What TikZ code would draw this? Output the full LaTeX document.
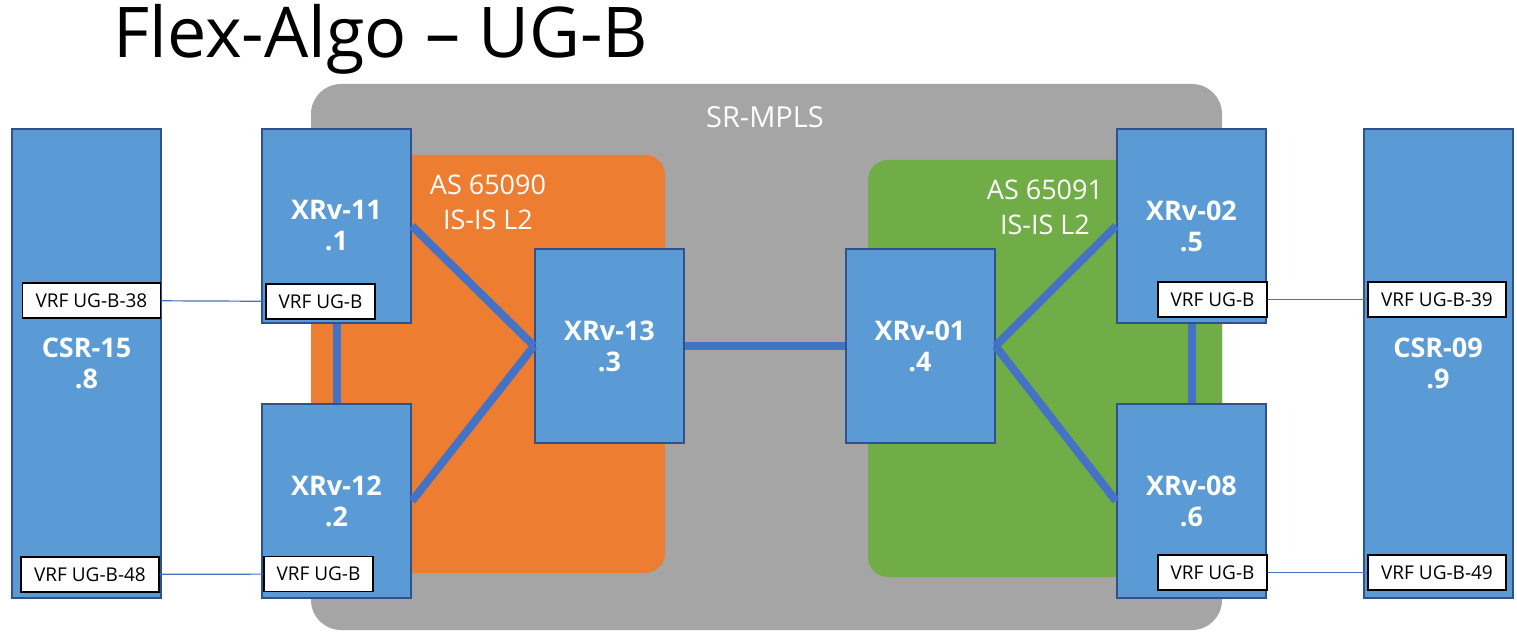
\documentclass[tikz,border=0pt]{standalone}
\usepackage{fontspec}
\setmainfont{Open Sans}
\definecolor{boxblue}{HTML}{5B9BD5}
\definecolor{edgeblue}{HTML}{2F528F}
\definecolor{linkblue}{HTML}{4472C4}
\definecolor{areagray}{HTML}{A5A5A5}
\definecolor{areaorange}{HTML}{ED7D31}
\definecolor{areagreen}{HTML}{70AD47}

\begin{document}
\begin{tikzpicture}[
  x = 0.5pt, y = -0.5pt,
  router/.style = {draw = edgeblue, line width = 1pt, fill = boxblue, text = white,
                   font = \bfseries\fontsize{13.5}{15.5}\selectfont, align = center,
                   minimum width = 74.5pt, minimum height = 97pt, inner sep = 0pt},
  ce/.style = {router, minimum height = 234.5pt},
  vrf/.style = {draw = black, line width = 0.6pt, fill = white, inner sep = 0pt,
                font = \fontsize{9.5}{11}\selectfont,
                minimum width = 69pt, minimum height = 17.5pt},
  vrfpe/.style = {vrf, minimum width = 54.5pt},
  link/.style = {draw = linkblue, line width = 4pt},
  tie/.style = {draw = linkblue, line width = 0.6pt},
  area/.style = {text = white, align = center, font = \fontsize{13.5}{17.5}\selectfont}
  ]
  \useasboundingbox (0,0) rectangle (1517,642);

  % title
  \node[anchor = base west, inner sep = 0pt, font = \fontsize{35}{40}\selectfont]
    (title) at (113,58) {Flex-Algo – UG-B};

  % areas
  \fill[areagray, rounded corners = 15pt] (311,84) rectangle (1222,630);
  \fill[areaorange, rounded corners = 10pt] (311,155) rectangle (665,573);
  \fill[areagreen, rounded corners = 10pt] (868,160) rectangle (1222,577);
  \node[area, font = \fontsize{14.5}{17}\selectfont] (srmpls) at (765,117) {SR-MPLS};
  \node[area] (as65090) at (488,202) {AS 65090\\IS-IS L2};
  \node[area] (as65091) at (1045,207) {AS 65091\\IS-IS L2};

  % routers
  \node[ce] (csr15) at (86.5,363.5) {CSR-15\\.8};
  \node[router] (xrv11) at (336.5,226) {XRv-11\\.1};
  \node[router] (xrv12) at (336.5,501) {XRv-12\\.2};
  \node[router] (xrv13) at (609.5,346) {XRv-13\\.3};
  \node[router] (xrv01) at (920,346) {XRv-01\\.4};
  \node[router] (xrv02) at (1191.5,226) {XRv-02\\.5};
  \node[router] (xrv08) at (1191.5,501) {XRv-08\\.6};
  \node[ce] (csr09) at (1438,363.5) {CSR-09\\.9};

  % links
  \draw[link] (xrv11.east) -- (xrv13.west);
  \draw[link] (xrv12.east) -- (xrv13.west);
  \draw[link] (xrv11) -- (xrv12);
  \draw[link] (xrv13) -- (xrv01);
  \draw[link] (xrv01.east) -- (xrv02.west);
  \draw[link] (xrv01.east) -- (xrv08.west);
  \draw[link] (xrv02) -- (xrv08);

  % vrfs
  \node[vrf] (vrf38) at (91.5,300.5) {VRF UG-B-38};
  \node[vrfpe] (vrf11) at (320.5,301.5) {VRF UG-B};
  \node[vrf] (vrf48) at (90,574.5) {VRF UG-B-48};
  \node[vrfpe] (vrf12) at (318.5,574) {VRF UG-B};
  \node[vrfpe] (vrf02) at (1212.5,299.5) {VRF UG-B};
  \node[vrf] (vrf39) at (1437,299.5) {VRF UG-B-39};
  \node[vrfpe] (vrf08) at (1212.5,572.5) {VRF UG-B};
  \node[vrf] (vrf49) at (1437,572.5) {VRF UG-B-49};

  \draw[tie] (vrf38) -- (vrf11);
  \draw[tie] (vrf48) -- (vrf12);
  \draw[tie] (vrf02) -- (vrf39);
  \draw[tie] (vrf08) -- (vrf49);
\end{tikzpicture}
\end{document}
